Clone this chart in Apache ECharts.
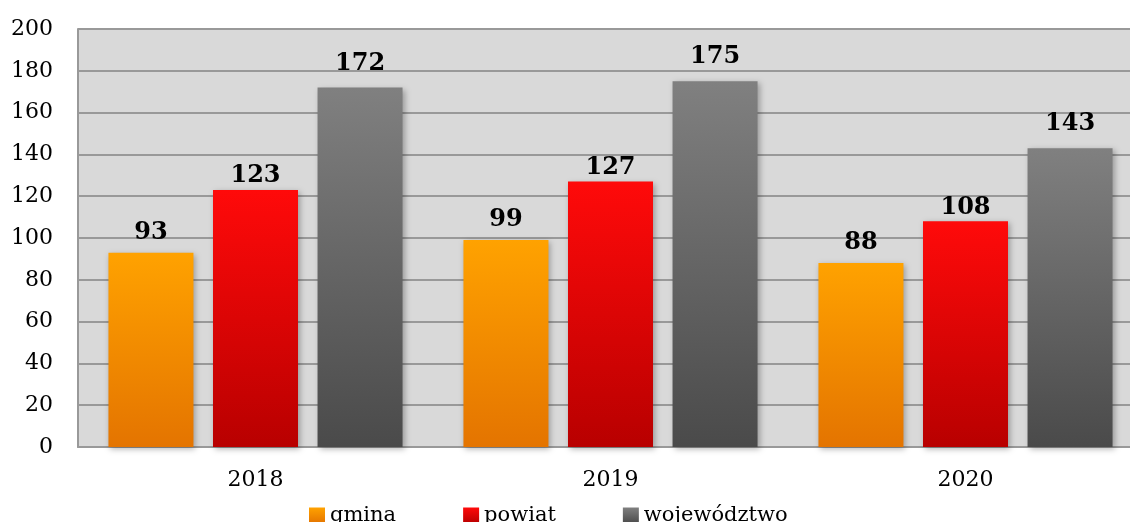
<!DOCTYPE html>
<html>
<head>
<meta charset="utf-8">
<script src="https://cdn.jsdelivr.net/npm/echarts@6/dist/echarts.min.js"></script>
<style>html,body{margin:0;padding:0;background:#fff}#c{width:1130px;height:522px}</style>
</head>
<body>
<div id="c"></div>
<script>
var categories = ['2018', '2019', '2020'];
var seriesNames = ['gmina', 'powiat', 'województwo'];
var gmina = [93, 99, 88];
var powiat = [123, 127, 108];
var wojewodztwo = [172, 175, 143];
var yTicks = { min: 0, max: 200, interval: 20 };

var FONT = '"DejaVu Serif", serif';
function grad(top, bottom) {
  return new echarts.graphic.LinearGradient(0, 0, 0, 1, [
    { offset: 0, color: top }, { offset: 1, color: bottom }
  ]);
}
var colors = [grad('#ffa200', '#e47400'), grad('#ff0a0a', '#b80000'), grad('#808080', '#4a4a4a')];
var legendColors = [grad('#ffa200', '#e47400'), grad('#ff0a0a', '#b80000'), grad('#808080', '#4a4a4a')];
var distances = [8, 2, 12];
var values = [gmina, powiat, wojewodztwo];

var chart = echarts.init(document.getElementById('c'), null, { renderer: 'canvas' });
chart.setOption({
  animation: false,
  backgroundColor: '#ffffff',
  grid: { left: 78, top: 29, width: 1065, height: 418, backgroundColor: '#d9d9d9', show: true, borderWidth: 0, outerBoundsMode: 'none', containLabel: false },
  legend: {
    data: seriesNames.map(function (n, i) { return { name: n, itemStyle: { color: legendColors[i] } }; }),
    left: 304, top: 500, itemWidth: 16, itemHeight: 16, itemGap: 67,
    icon: 'rect',
    textStyle: { fontFamily: FONT, fontSize: 21, color: '#000' }
  },
  xAxis: {
    type: 'category', data: categories,
    axisLine: { show: true, lineStyle: { color: '#999999', width: 2 } },
    axisTick: { show: false },
    axisLabel: { fontFamily: FONT, fontSize: 22, color: '#000', margin: 22 }
  },
  yAxis: {
    type: 'value', min: yTicks.min, max: yTicks.max, interval: yTicks.interval,
    axisLine: { show: true, lineStyle: { color: '#999999', width: 2 } },
    axisTick: { show: false },
    splitLine: { lineStyle: { color: '#999999', width: 2 } },
    axisLabel: { fontFamily: FONT, fontSize: 22, color: '#000', margin: 25 }
  },
  series: seriesNames.map(function (n, i) {
    return {
      name: n, type: 'bar', data: values[i],
      barWidth: 85, barGap: '23%', barCategoryGap: '17%',
      itemStyle: { color: colors[i], shadowColor: 'rgba(0,0,0,0.3)', shadowBlur: 6, shadowOffsetX: 2, shadowOffsetY: 2 },
      label: { show: true, position: 'top', distance: distances[i], fontFamily: FONT, fontWeight: 'bold', fontSize: 24, color: '#000' }
    };
  })
});
</script>
</body>
</html>
